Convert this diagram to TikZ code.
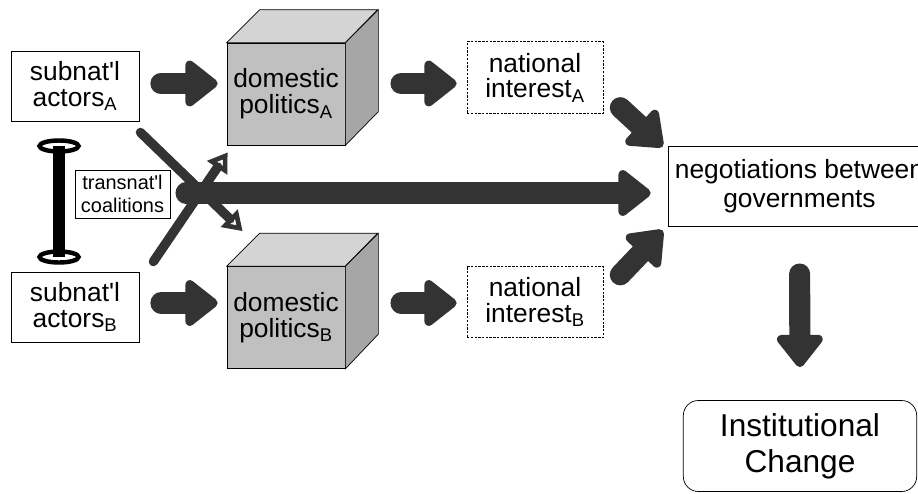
\documentclass[tikz,border=0pt]{standalone}
\usepackage{fontspec}
\setmainfont{Liberation Sans}
\usetikzlibrary{arrows.meta}

\definecolor{arrowgray}{HTML}{333333}
\definecolor{cubefront}{HTML}{C0C0C0}
\definecolor{cubetop}{HTML}{D4D4D4}
\definecolor{cubeside}{HTML}{A6A6A6}

\begin{document}
\begin{tikzpicture}[x=0.03cm, y=-0.03cm,
    actor/.style={draw, line width=0.7pt, minimum width=3.84cm, minimum height=2.1cm, inner sep=1pt, align=center, font=\fontsize{22.5}{22}\selectfont},
    cube/.style={draw, line width=0.6pt, fill=cubefront, minimum width=3.54cm, minimum height=3.06cm, inner sep=1pt, align=center, font=\fontsize{22.5}{22}\selectfont},
    interest/.style={draw, line width=0.6pt, dash pattern=on 2pt off 1.2pt, minimum width=4.08cm, minimum height=2.15cm, inner sep=1pt, align=center, font=\fontsize{22.5}{22}\selectfont},
    fat/.style={draw=arrowgray, line width=18pt, line cap=round, -{Triangle[round, length=30pt, width=45pt, line width=9pt]}},
    cross/.style={draw=arrowgray, line width=8pt, line cap=round, -{Triangle[open, length=16pt, width=20pt, line width=4pt]}}]

    \useasboundingbox (0,0) rectangle (918,493);
    \clip (0,0) rectangle (918,493);

    % Row heights of the arrows
    \coordinate (rowA) at (0,83.5);
    \coordinate (rowM) at (0,193);
    \coordinate (rowB) at (0,303);

    % Subnational actors
    \node[actor] (subA) at (75,86) {subnat\textquotesingle l\\actors\textsubscript{A}};
    \node[actor] (subB) at (75,307) {subnat\textquotesingle l\\actors\textsubscript{B}};

    % Link between the actors
    \coordinate (linkA) at (59,146);
    \coordinate (linkB) at (59,257);
    \draw[line width=10pt] (linkA) -- (linkB);
    \draw[line width=3.8pt] (linkA) ellipse [x radius=19.5, y radius=5.5];
    \draw[line width=3.8pt] (linkB) ellipse [x radius=19.5, y radius=5.5];

    % Transnational coalitions label
    \node[draw, line width=0.6pt, minimum width=2.85cm, minimum height=1.44cm, inner sep=1pt, align=center, font=\fontsize{17}{20}\selectfont] (trans) at (122.5,194) {transnat\textquotesingle l\\coalitions};

    % Domestic politics cubes
    \node[cube] (domA) at (286,94) {domestic\\politics\textsubscript{A}};
    \node[cube] (domB) at (286,317.5) {domestic\\politics\textsubscript{B}};

    \draw[line width=0.6pt, fill=cubetop] (domA.north west) -- ++(33,-33) -- ++(118,0) -- (domA.north east) -- cycle;
    \draw[line width=0.6pt, fill=cubeside] (domA.north east) -- ++(33,-33) -- ++(0,102) -- (domA.south east) -- cycle;
    \draw[line width=0.6pt, fill=cubetop] (domB.north west) -- ++(33,-33) -- ++(118,0) -- (domB.north east) -- cycle;
    \draw[line width=0.6pt, fill=cubeside] (domB.north east) -- ++(33,-33) -- ++(0,101) -- (domB.south east) -- cycle;

    % National interests
    \node[interest] (natA) at (535,77.5) {national\\interest\textsubscript{A}};
    \node[interest] (natB) at (535,302) {national\\interest\textsubscript{B}};

    % Negotiations and outcome
    \node[draw, line width=0.6pt, minimum width=7.89cm, minimum height=2.4cm, inner sep=1pt, align=center, font=\fontsize{22.5}{25}\selectfont] (neg) at (799.5,186) {negotiations between\\governments};
    \node[draw, line width=0.6pt, rounded corners=0.45cm, minimum width=7cm, minimum height=2.73cm, inner sep=1pt, align=center, font=\fontsize{27}{31}\selectfont] (inst) at (800,446) {Institutional\\Change};

    % Arrows along the two rows
    \draw[fat, shorten <=0.645cm, shorten >=0.27cm] (subA.east |- rowA) -- (domA.west |- rowA);
    \draw[fat, shorten <=1.67cm, shorten >=0.3cm] (domA.east |- rowA) -- (natA.west |- rowA);
    \draw[fat, shorten <=0.645cm, shorten >=0.27cm] (subB.east |- rowB) -- (domB.west |- rowB);
    \draw[fat, shorten <=1.67cm, shorten >=0.3cm] (domB.east |- rowB) -- (natB.west |- rowB);

    % Arrows into the negotiations
    \draw[fat] ([shift={(17,-6)}]natA.south east) -- ([shift={(-5,1)}]neg.north west);
    \draw[fat] ([shift={(17,9)}]natB.north east) -- ([shift={(-5,4)}]neg.south west);
    \draw[fat, shorten <=0.47cm, shorten >=0.51cm] (trans.east |- rowM) -- (neg.west |- rowM);
    \draw[fat, shorten <=1.43cm, shorten >=0.99cm] (neg.south) -- (inst.north);

    % Crossing arrows
    \draw[cross] ([shift={(1,11)}]subA.south east) -- ([shift={(16,-35)}]domB.north west);
    \draw[cross] ([shift={(14,-10)}]subB.north east) -- ([shift={(1,7)}]domA.south west);

\end{tikzpicture}
\end{document}
